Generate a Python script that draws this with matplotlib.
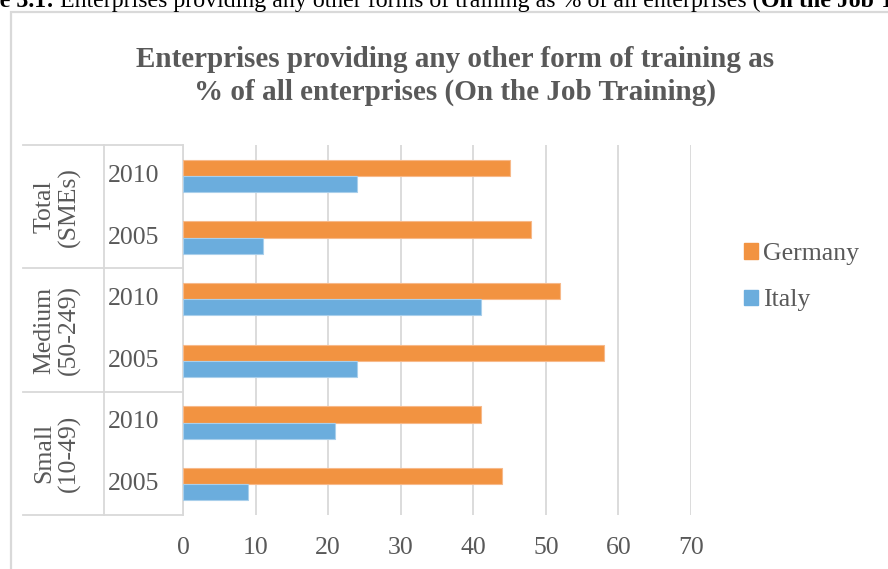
import numpy as np
import matplotlib
matplotlib.use("Agg")
import matplotlib.pyplot as plt
from matplotlib.patches import Rectangle, Patch
from matplotlib.lines import Line2D

# data, listed bottom to top as the bars are drawn
years = ["2005", "2010", "2005", "2010", "2005", "2010"]
groups = ["Small\n(10-49)", "Medium\n(50-249)", "Total\n(SMEs)"]
germany = [44, 41, 58, 52, 48, 45]
italy = [9, 21, 24, 41, 11, 24]
xticks = [0, 10, 20, 30, 40, 50, 60, 70]

W, H = 888, 569
serif = ["Liberation Serif", "DejaVu Serif"]
grey = "#595959"
c_ger = "#F29341"
c_ita = "#6BADDD"
fs = 18.5

plt.rcParams["font.family"] = serif

fig = plt.figure(figsize=(W / 100, H / 100), dpi=100)

def fx(px):
    return px / W

def fy(py):
    return 1 - py / H

# outer chart frame
fig.patches.append(Rectangle((fx(10.5), fy(600)), fx(900), fy(11.5) - fy(600),
                             transform=fig.transFigure, fill=False,
                             edgecolor="#D9D9D9", lw=1.6))

# caption line from the document above the chart (runs past the edges)
cap_y = fy(7)
cap_parts = [("Figure 3.1:", "bold"),
             (" Enterprises providing any other forms of training as % of all enterprises (", "normal"),
             ("On the Job Training)", "bold")]
fig.canvas.draw()
r = fig.canvas.get_renderer()
x0 = fx(-57)
for txt, wt in cap_parts:
    t = fig.text(x0, cap_y, txt, fontsize=17.2, weight=wt, va="baseline",
                 ha="left", color="black")
    x0 = t.get_window_extent(r).x1 / W

# title
fig.text(fx(455), fy(76), "Enterprises providing any other form of training as\n% of all enterprises (On the Job Training)",
         ha="center", va="center", fontsize=21, weight="bold", color=grey,
         linespacing=1.25)

# plot area
left, right, top, bottom = 183, 691, 145, 515
ax = fig.add_axes([fx(left), fy(bottom), fx(right) - fx(left), fy(top) - fy(bottom)])

y = np.arange(len(years))
h = 0.26
ax.barh(y + h / 2, germany, height=h, color=c_ger, edgecolor="#F7B98A", lw=0.8, zorder=3)
ax.barh(y - h / 2, italy, height=h, color=c_ita, edgecolor="#A9CFEB", lw=0.8, zorder=3)

ax.set_xlim(0, 70)
ax.set_ylim(-0.5, len(years) - 0.5)
ax.set_xticks(xticks)
ax.set_xticklabels([str(v) for v in xticks])
ax.tick_params(axis="x", length=0, pad=16, labelsize=fs, labelcolor=grey)
ax.set_yticks([])
ax.grid(axis="x", color="#D9D9D9", lw=1.3, zorder=0)
for s in ["top", "right", "bottom"]:
    ax.spines[s].set_visible(False)
ax.spines["left"].set_color("#D9D9D9")
ax.spines["left"].set_linewidth(1.3)

# two-level category axis drawn to the left of the plot area
tr = ax.get_yaxis_transform()
x_outer = (23 - left) / (right - left)
x_mid = (104 - left) / (right - left)
for b in [-0.5, 1.5, 3.5, 5.5]:
    ax.add_line(Line2D([x_outer, 0], [b, b], transform=tr, color="#D9D9D9",
                       lw=1.3, clip_on=False))
ax.add_line(Line2D([x_mid, x_mid], [-0.5, 5.5], transform=tr, color="#D9D9D9",
                   lw=1.3, clip_on=False))
x_year = (134 - left) / (right - left)
for i, yr in enumerate(years):
    ax.text(x_year, i, yr, transform=tr, ha="center", va="center",
            fontsize=fs, color=grey)
x_grp = (57 - left) / (right - left)
for g, name in enumerate(groups):
    ax.text(x_grp, 2 * g + 0.5, name, transform=tr, ha="center", va="center",
            rotation=90, fontsize=fs, color=grey, linespacing=1.1)

# legend
handles = [Patch(facecolor=c_ger, edgecolor=c_ger, label="Germany"),
           Patch(facecolor=c_ita, edgecolor=c_ita, label="Italy")]
fig.legend(handles=handles, loc="upper left", bbox_to_anchor=(fx(744), fy(243)),
           frameon=False, fontsize=fs, labelcolor=grey, handlelength=0.55,
           handleheight=0.55, handletextpad=0.2, labelspacing=0.95,
           borderaxespad=0, borderpad=0)

fig.savefig("out.png", dpi=100)
